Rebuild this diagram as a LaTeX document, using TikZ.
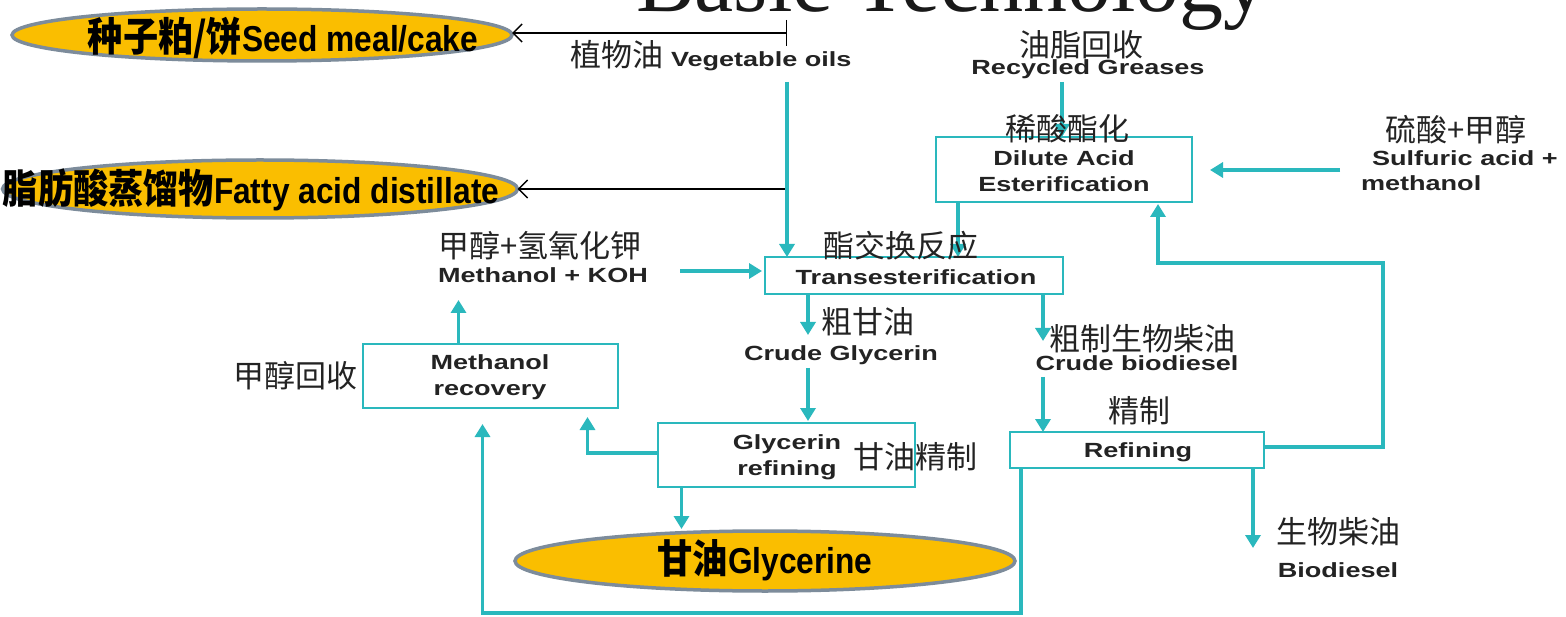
\documentclass[tikz,border=0pt]{standalone}
\usepackage{fontspec}
\setmainfont{Liberation Sans}
\newfontfamily\cjk{Noto Sans CJK SC}
\newfontfamily\tnr{Liberation Serif}
\usetikzlibrary{arrows.meta,shapes.geometric}
\definecolor{tl}{RGB}{42,184,189}
\definecolor{gold}{RGB}{250,190,0}
\definecolor{rim}{RGB}{125,140,155}
\definecolor{ink}{RGB}{35,35,35}
\newcommand{\wideT}[1]{\scalebox{1.32}[1]{#1}}
\newcommand{\narrowT}[1]{\scalebox{0.88}[1]{#1}}
\tikzset{
  every node/.style={inner sep=0pt, outer sep=0pt},
  pbox/.style={draw=tl, line width=2.6pt, rectangle, fill=white},
  oval/.style={ellipse, draw=rim, line width=3.5pt, fill=gold},
  en/.style={font=\fontsize{20.5}{26}\selectfont\bfseries, text=ink, align=center},
  zh/.style={font=\fontsize{31}{34}\cjk, text=ink},
  big/.style={font=\fontsize{36}{36}\selectfont\bfseries, text=black},
  flow/.style={draw=tl, line width=3.6pt, -{Triangle[length=13pt,width=15pt]}},
  blk/.style={draw=black, line width=1.5pt},
}
\begin{document}
\begin{tikzpicture}[x=1pt,y=-1pt]
\useasboundingbox (0,0) rectangle (1566,617);
\clip (0,0) rectangle (1566,617);
\fill[white] (0,0) rectangle (1566,617);
% title
\node[font=\tnr\fontsize{88}{88}\selectfont, anchor=base west, text=black!90] (title) at (636,12) {Basic Technology};
% ellipses
\node[oval, minimum width=500pt, minimum height=52pt] (seed) at (262,35) {};
\node[oval, minimum width=515pt, minimum height=58pt] (fatty) at (260,189) {};
\node[oval, minimum width=500pt, minimum height=60pt] (glyc) at (765,561) {};
% boxes
\node[pbox, minimum width=256pt, minimum height=65pt] (dae) at (1064,169.5) {};
\node[pbox, minimum width=298pt, minimum height=37pt] (trans) at (914,275.5) {};
\node[pbox, minimum width=255pt, minimum height=64pt] (mr) at (490.5,376) {};
\node[pbox, minimum width=257pt, minimum height=64pt] (gr) at (786.5,455) {};
\node[pbox, minimum width=254pt, minimum height=36pt] (ref) at (1137,450) {};
% black connectors
\coordinate (tick) at (787,33);
\draw[blk, {Bar[width=26pt]}-{Straight Barb[length=9pt,width=18pt]}] (tick) -- (tick -| seed.east);
\coordinate (fj) at (787,189);
\draw[blk, -{Straight Barb[length=9pt,width=18pt]}] (fj) -- (fj -| fatty.east);
% teal connectors
\coordinate (vegtop) at (787,82);
\draw[flow] (vegtop) -- (vegtop |- trans.north);
\coordinate (rgbot) at (1062,82);
\draw[flow] (rgbot) -- (rgbot |- dae.north);
\coordinate (saa) at (1340,170);
\draw[flow, shorten >=18pt] (saa) -- (saa -| dae.east);
\coordinate (d1) at ([xshift=22pt]dae.south west);
\draw[flow] (d1) -- (d1 |- trans.north);
\coordinate (r1) at ([yshift=3pt]ref.east);
\coordinate (r2) at (1383,263);
\coordinate (d2) at ([xshift=94pt]dae.south);
\draw[flow, shorten >=2pt] (r1) -| (r2) -| (d2);
\coordinate (mka) at (680,271);
\draw[flow, shorten >=3pt] (mka) -- (mka -| trans.west);
\coordinate (m1) at ([xshift=-32pt]mr.north);
\draw[flow] (m1) -- ++(0,-44);
\coordinate (t1) at ([xshift=-106pt]trans.south);
\draw[flow] (t1) -- ++(0,41);
\coordinate (c1) at (808,368);
\draw[flow, shorten >=2pt] (c1) -- (c1 |- gr.north);
\coordinate (g1) at ([xshift=-105pt]gr.south);
\draw[flow, shorten >=2pt] (g1) -- (g1 |- glyc.north);
\coordinate (g2) at ([yshift=2pt]gr.west);
\coordinate (m2) at ([xshift=97pt]mr.south);
\draw[flow, shorten >=9pt] (g2) -| (m2);
\coordinate (f1) at ([xshift=11pt]ref.south west);
\coordinate (m3) at ([xshift=-8pt]mr.south);
\draw[flow, shorten >=16pt] (f1) -- ++(0,145) -| (m3);
\coordinate (t2) at ([xshift=129pt]trans.south);
\draw[flow] (t2) -- ++(0,47);
\coordinate (c2) at (1043,377);
\draw[flow] (c2) -- (c2 |- ref.north);
\coordinate (f2) at ([xshift=116pt]ref.south);
\draw[flow] (f2) -- ++(0,80);
% ellipse texts
\node[big] (seedt) at (283,38) {\narrowT{{\cjk\bfseries\fontsize{40}{40}\selectfont 种子粕/饼}Seed meal/cake}};
\node[big] (fattyt) at (251,190) {\narrowT{{\cjk\bfseries\fontsize{40}{40}\selectfont 脂肪酸蒸馏物}Fatty acid distillate}};
\node[big] (glyct) at (765,560) {\narrowT{{\cjk\bfseries\fontsize{40}{40}\selectfont 甘油}Glycerine}};
% box texts
\node[en] (daet) at (1064,171) {\wideT{Dilute Acid}\\\wideT{Esterification}};
\node[en] (transt) at (916,277) {\wideT{Transesterification}};
\node[en] (mrt) at (490,377) {\wideT{Methanol}\\\wideT{recovery}};
\node[en] (grt) at (787,457) {\wideT{Glycerin}\\\wideT{refining}};
\node[en] (reft) at (1138,452) {\wideT{Refining}};
% labels
\node[anchor=base west, text=ink] (veg) at (570,67) {{\cjk\fontsize{31}{34}\selectfont 植物油}\hspace{8pt}{\fontsize{20.5}{26}\selectfont\bfseries\wideT{Vegetable oils}}};
\node[zh] (rgcn) at (1081,45) {油脂回收};
\node[en] (rgen) at (1088,69) {\wideT{Recycled Greases}};
\node[zh] (daecn) at (1067,129) {稀酸酯化};
\node[zh] (sacn) at (1456,130) {硫酸+甲醇};
\node[en, anchor=west] (saen1) at (1372,158) {\wideT{Sulfuric acid +}};
\node[en, anchor=west] (saen2) at (1361,183) {\wideT{methanol}};
\node[zh] (transcn) at (901,246) {酯交换反应};
\node[zh] (mkcn) at (540,246) {甲醇+氢氧化钾};
\node[en] (mken) at (543,275) {\wideT{Methanol + KOH}};
\node[zh] (mrcn) at (295,376) {甲醇回收};
\node[zh] (cgcn) at (868,322) {粗甘油};
\node[en] (cgen) at (841,355) {\wideT{Crude Glycerin}};
\node[zh] (grcn) at (915,457) {甘油精制};
\node[zh] (cbcn) at (1142,339) {粗制生物柴油};
\node[en] (cben) at (1137,363) {\wideT{Crude biodiesel}};
\node[zh] (refcn) at (1139,411) {精制};
\node[zh] (bdcn) at (1338,532) {生物柴油};
\node[en] (bden) at (1338,570) {\wideT{Biodiesel}};
\end{tikzpicture}
\end{document}
